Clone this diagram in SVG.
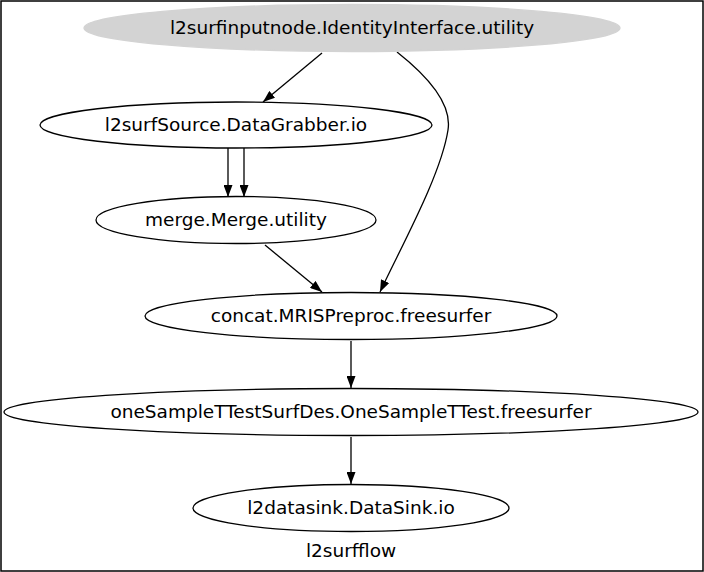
<svg xmlns="http://www.w3.org/2000/svg" width="704" height="572" viewBox="0 0 704 572">
<defs>
<style>
.node ellipse{fill:#fff;stroke:#000;stroke-width:1.3}
.node.src ellipse{fill:#d3d3d3;stroke:#d3d3d3}
text{font-family:"DejaVu Sans","Liberation Sans",sans-serif;font-size:18.5px;text-anchor:middle;fill:#000}
.edges path{fill:none;stroke:#000;stroke-width:1.3}
</style>
<marker id="arr" viewBox="0 0 12 9" refX="12" refY="4.5" markerWidth="12" markerHeight="9" markerUnits="userSpaceOnUse" orient="auto">
<path d="M0,0 L12,4.5 L0,9 Z" fill="#000"/>
</marker>
</defs>
<rect x="1" y="1" width="702" height="570" fill="#fff" stroke="#000" stroke-width="1.5"/>
<g class="edges">
<path d="M322,53 L263,102" marker-end="url(#arr)"/>
<path d="M397,52 C430,78 452,105 448,130 C441,175 402,245 380,292" marker-end="url(#arr)"/>
<path d="M228,148 L228,197" marker-end="url(#arr)"/>
<path d="M244,148 L244,197" marker-end="url(#arr)"/>
<path d="M265,245 L322,292" marker-end="url(#arr)"/>
<path d="M351,341 L351,388" marker-end="url(#arr)"/>
<path d="M351,437 L351,484" marker-end="url(#arr)"/>
</g>
<g id="n1" class="node src"><ellipse cx="352" cy="28" rx="268" ry="23.5"/><text x="352" y="34">l2surfinputnode.IdentityInterface.utility</text></g>
<g id="n2" class="node"><ellipse cx="236" cy="125" rx="196" ry="23"/><text x="236" y="131">l2surfSource.DataGrabber.io</text></g>
<g id="n3" class="node"><ellipse cx="236" cy="220" rx="140" ry="23.5"/><text x="236" y="226">merge.Merge.utility</text></g>
<g id="n4" class="node"><ellipse cx="351" cy="316" rx="206" ry="23.5"/><text x="351" y="322">concat.MRISPreproc.freesurfer</text></g>
<g id="n5" class="node"><ellipse cx="351" cy="412" rx="347" ry="23.5"/><text x="351" y="418">oneSampleTTestSurfDes.OneSampleTTest.freesurfer</text></g>
<g id="n6" class="node"><ellipse cx="351" cy="508" rx="158" ry="23.5"/><text x="351" y="514">l2datasink.DataSink.io</text></g>
<text x="351" y="557">l2surfflow</text>
</svg>
